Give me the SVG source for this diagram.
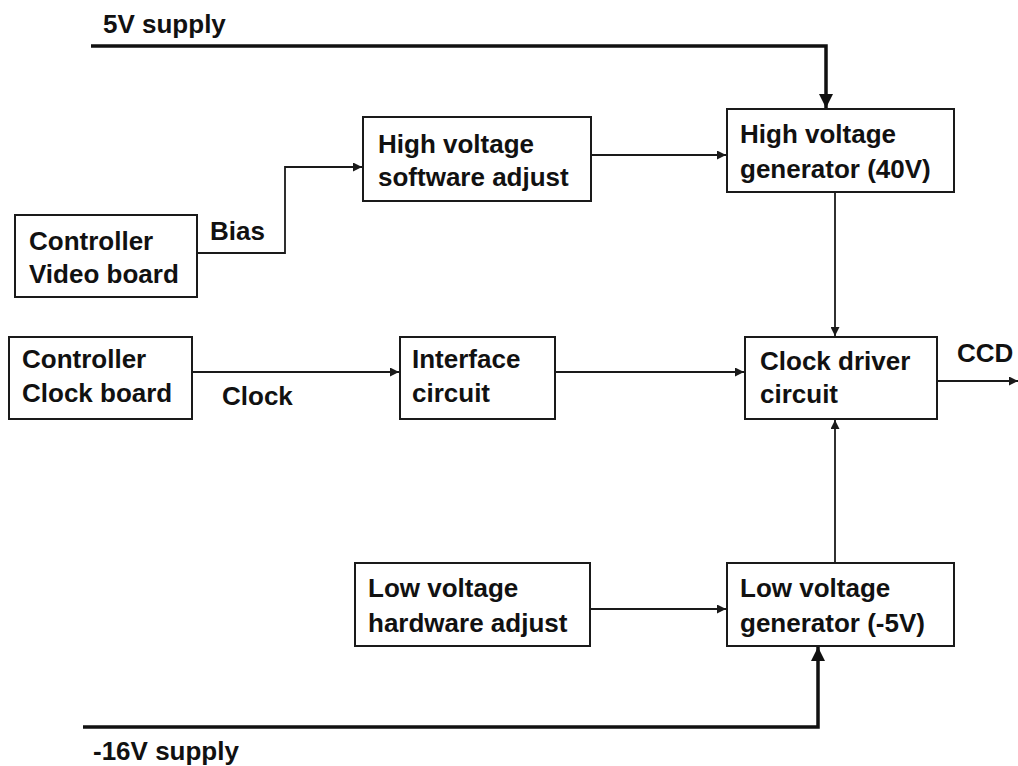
<svg xmlns="http://www.w3.org/2000/svg" width="1018" height="766" viewBox="0 0 1018 766">
  <style>
    .box { fill: #ffffff; stroke: #1a1a1a; stroke-width: 2; }
    .lbl { font-family: "Liberation Sans", Arial, sans-serif; font-weight: bold; font-size: 26px; fill: #111111; }
    .wire { fill: none; stroke: #1a1a1a; stroke-width: 1.8; }
    .bus { fill: none; stroke: #111111; stroke-width: 3.5; }
  </style>
  <defs>
    <marker id="arr" viewBox="0 0 10 10" refX="10" refY="5" markerWidth="5" markerHeight="5" markerUnits="strokeWidth" orient="auto">
      <path d="M0,0 L10,5 L0,10 Z" fill="#1a1a1a"/>
    </marker>
    <marker id="arrBus" viewBox="0 0 10 10" refX="10" refY="5" markerWidth="4" markerHeight="4" markerUnits="strokeWidth" orient="auto">
      <path d="M0,0 L10,5 L0,10 Z" fill="#111111"/>
    </marker>
  </defs>
  <rect width="1018" height="766" fill="#ffffff"/>

  <!-- connectors -->
  <g id="connectors">
    <path class="bus" d="M91,46 H826 V108" marker-end="url(#arrBus)"/>
    <path class="bus" d="M83,727 H818 V647" marker-end="url(#arrBus)"/>
    <path class="wire" d="M197,253 H285 V167 H362" marker-end="url(#arr)"/>
    <path class="wire" d="M591,155 H726" marker-end="url(#arr)"/>
    <path class="wire" d="M835,192 V336" marker-end="url(#arr)"/>
    <path class="wire" d="M192,372 H399" marker-end="url(#arr)"/>
    <path class="wire" d="M555,372 H744" marker-end="url(#arr)"/>
    <path class="wire" d="M937,381 H1018" marker-end="url(#arr)"/>
    <path class="wire" d="M835,563 V420" marker-end="url(#arr)"/>
    <path class="wire" d="M590,609 H726" marker-end="url(#arr)"/>
  </g>

  <!-- free labels -->
  <g id="labels">
    <text class="lbl" x="103" y="33">5V supply</text>
    <text class="lbl" x="210" y="240">Bias</text>
    <text class="lbl" x="222" y="405">Clock</text>
    <text class="lbl" x="957" y="362">CCD</text>
    <text class="lbl" x="93" y="760">-16V supply</text>
  </g>

  <g id="hv-software-adjust">
    <rect class="box" x="363" y="117" width="228" height="84"/>
    <text class="lbl" x="378" y="153">High voltage</text>
    <text class="lbl" x="378" y="186">software adjust</text>
  </g>

  <g id="hv-generator">
    <rect class="box" x="727" y="109" width="227" height="83"/>
    <text class="lbl" x="740" y="143">High voltage</text>
    <text class="lbl" x="740" y="178">generator (40V)</text>
  </g>

  <g id="controller-video">
    <rect class="box" x="15" y="215" width="182" height="82"/>
    <text class="lbl" x="29" y="250">Controller</text>
    <text class="lbl" x="29" y="283">Video board</text>
  </g>

  <g id="controller-clock">
    <rect class="box" x="9" y="337" width="183" height="82"/>
    <text class="lbl" x="22" y="368">Controller</text>
    <text class="lbl" x="22" y="402">Clock board</text>
  </g>

  <g id="interface-circuit">
    <rect class="box" x="400" y="337" width="155" height="82"/>
    <text class="lbl" x="412" y="368">Interface</text>
    <text class="lbl" x="412" y="402">circuit</text>
  </g>

  <g id="clock-driver">
    <rect class="box" x="745" y="337" width="192" height="82"/>
    <text class="lbl" x="760" y="370">Clock driver</text>
    <text class="lbl" x="760" y="403">circuit</text>
  </g>

  <g id="lv-hardware-adjust">
    <rect class="box" x="355" y="563" width="235" height="83"/>
    <text class="lbl" x="368" y="597">Low voltage</text>
    <text class="lbl" x="368" y="632">hardware adjust</text>
  </g>

  <g id="lv-generator">
    <rect class="box" x="727" y="563" width="227" height="83"/>
    <text class="lbl" x="740" y="597">Low voltage</text>
    <text class="lbl" x="740" y="632">generator (-5V)</text>
  </g>
</svg>
